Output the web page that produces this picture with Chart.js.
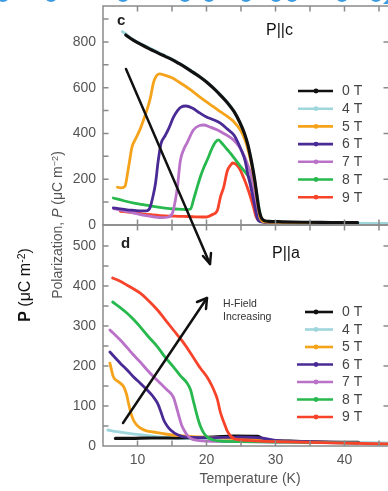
<!DOCTYPE html>
<html><head><meta charset="utf-8">
<script src="https://cdn.jsdelivr.net/npm/chart.js@4/dist/chart.umd.min.js"></script>
<style>
html,body{margin:0;padding:0;background:#fff;width:388px;height:491px;overflow:hidden;position:relative;font-family:"Liberation Sans",Arial,sans-serif;}
canvas{position:absolute;left:0;top:0;}
svg{position:absolute;left:0;top:0;}
.t{position:absolute;white-space:nowrap;line-height:1;}
.c{transform:translate(-50%,-50%);}
.r{transform:translate(-50%,-50%) rotate(-90deg);}
sup{font-size:0.65em;vertical-align:0.45em;line-height:0;}
</style></head><body>
<canvas id="cTop" width="392" height="491"></canvas>
<canvas id="cBot" width="392" height="491"></canvas>
<svg width="388" height="491" viewBox="0 0 388 491">
  <g fill="#3d9be0">
    <ellipse cx="3" cy="-4" rx="6" ry="6"/><ellipse cx="51" cy="-4" rx="6" ry="6"/>
    <ellipse cx="123" cy="-4" rx="6" ry="6"/><ellipse cx="185" cy="-4" rx="6" ry="6"/>
    <ellipse cx="209" cy="-4" rx="6" ry="6"/><ellipse cx="246" cy="-4" rx="6" ry="6"/>
    <ellipse cx="276" cy="-4" rx="6" ry="6"/><ellipse cx="292" cy="-4" rx="6" ry="6"/>
    <ellipse cx="342" cy="-4" rx="6" ry="6"/><ellipse cx="376" cy="-4" rx="6" ry="6"/>
    <polygon points="383,4 388,-1 388,4"/>
  </g>
  <g stroke="#111" stroke-width="2.5" fill="none" stroke-linecap="round" stroke-linejoin="round">
    <line x1="126" y1="69" x2="210" y2="264"/>
    <polyline points="203,256 210,264 211,253"/>
    <line x1="123" y1="423" x2="207" y2="298"/>
    <polyline points="197,302 207,298 206,309"/>
  </g>
</svg>
<div class="t" style="left:117px;top:12px;font-size:15px;font-weight:bold;color:#222">c</div>
<div class="t" style="left:121px;top:235px;font-size:15px;font-weight:bold;color:#222">d</div>
<div class="t" style="left:266px;top:22px;font-size:16px;color:#111">P||c</div>
<div class="t" style="left:272px;top:245px;font-size:16px;color:#111">P||a</div>
<div class="t" style="left:223px;top:297px;font-size:10.5px;line-height:13px;color:#333">H-Field<br>Increasing</div>
<div class="t c" style="left:250px;top:478px;font-size:14px;color:#555">Temperature (K)</div>
<div class="t r" style="left:57px;top:225px;font-size:14px;color:#555">Polarization, <i>P</i> (μC m<sup>−2</sup>)</div>
<div class="t r" style="left:25px;top:285px;font-size:16px;color:#111"><b>P</b> (μC m<sup>-2</sup>)</div>
<script>
// ---------- axis / label data ----------
const T_MIN = 5, T_MAX = 46.45;
const X_LABEL_TICKS = [10, 20, 30, 40];
const X_MINOR_TICKS = [10, 15, 20, 25, 30, 35, 40, 45];
const TOP_Y_LABELS = [0, 200, 400, 600, 800];
const TOP_Y_MINOR = [100, 200, 300, 400, 500, 600, 700, 800, 900];
const BOT_Y_LABELS = [0, 100, 200, 300, 400, 500];
const BOT_Y_MINOR = [50, 100, 150, 200, 250, 300, 350, 400, 450, 500];
const FIELDS = ['0 T', '4 T', '5 T', '6 T', '7 T', '8 T', '9 T'];
const COLORS = ['#111111', '#9fd6dc', '#f5a31a', '#4a2a95', '#b972c8', '#27b84e', '#f7432a'];

// ---------- Panel c : P || c ----------
const c0T_T = [8.3, 9, 10, 11, 12, 13, 14, 15, 16, 17, 18, 19, 20, 21, 22, 23, 24, 24.8, 25.5, 26, 26.5, 27, 27.3, 27.6, 27.9, 28.3, 29, 31, 34, 38, 41.9];
const c0T_P = [830, 815, 797, 781, 766, 751, 737, 723, 706, 688, 668, 648, 625, 598, 568, 535, 495, 450, 400, 350, 280, 195, 130, 70, 35, 20, 16, 14, 12, 11, 10];
const c4T_T = [7.8, 8.5, 9, 10, 12, 14, 16, 18, 20, 22, 24, 25.5, 26.5, 27, 27.4, 27.8, 28.3, 30, 35, 40, 46.5];
const c4T_P = [845, 830, 818, 800, 770, 740, 708, 670, 627, 570, 497, 400, 282, 195, 120, 40, 18, 13, 10, 8, 7];
const c5T_T = [7.1, 7.6, 8.2, 8.5, 8.8, 9.2, 9.7, 10.4, 11, 11.4, 11.9, 12.3, 12.7, 13.2, 13.8, 15, 16, 17.5, 19, 20, 21, 22, 23, 24, 25, 25.6, 26.1, 26.6, 27, 27.4, 27.8, 28.3, 30, 35, 40];
const c5T_P = [165, 162, 170, 215, 270, 340, 375, 420, 470, 505, 560, 620, 650, 660, 656, 643, 625, 595, 560, 538, 517, 495, 475, 450, 410, 370, 320, 255, 185, 100, 30, 15, 12, 10, 9];
const c6T_T = [6.5, 7.5, 8.5, 9.5, 10.5, 11.3, 11.8, 12.2, 12.6, 13, 13.4, 14, 14.5, 15.2, 15.8, 16.3, 17, 18, 19, 20, 21, 22, 23, 24, 25, 25.6, 26, 26.4, 26.8, 27.2, 27.5, 28.2, 32, 38];
const c6T_P = [75, 70, 66, 64, 62, 62, 75, 120, 180, 280, 355, 390, 420, 470, 500, 515, 520, 510, 490, 472, 460, 445, 420, 392, 330, 280, 220, 170, 110, 50, 20, 13, 11, 9];
const c7T_T = [6.5, 8, 9.5, 11, 12.5, 13.5, 14.5, 15.1, 15.5, 15.8, 16.2, 16.7, 17.2, 18.1, 19, 19.6, 20.5, 21.6, 22.5, 23.9, 24.8, 25.5, 26, 26.4, 26.8, 27.2, 27.6, 28.2, 32, 38];
const c7T_P = [72, 62, 52, 42, 35, 32, 35, 55, 110, 170, 280, 330, 360, 415, 435, 437, 428, 415, 400, 372, 340, 300, 260, 227, 170, 100, 35, 15, 11, 9];
const c8T_T = [6.5, 8, 9.5, 11, 12.5, 14, 15.5, 17, 17.7, 18.1, 18.6, 19.1, 19.6, 20.1, 20.9, 21.3, 21.7, 22.3, 23, 23.9, 24.7, 25.5, 26, 26.4, 26.8, 27.3, 27.7, 28.3, 32, 38];
const c8T_P = [118, 106, 96, 88, 80, 74, 70, 67, 70, 109, 160, 210, 250, 284, 341, 362, 372, 355, 330, 297, 265, 235, 215, 195, 150, 70, 25, 14, 11, 9];
const c9T_T = [7.5, 9, 10.4, 12, 14, 16, 18, 19.5, 20.1, 20.8, 21.6, 22, 22.5, 23, 23.5, 23.8, 24.3, 24.9, 25.4, 25.9, 26.4, 26.8, 27.2, 27.6, 28.3, 32, 38];
const c9T_P = [60, 55, 50, 45, 40, 38, 36, 35, 36, 45, 66, 120, 166, 235, 262, 271, 265, 240, 205, 166, 120, 79, 35, 20, 13, 10, 8];

// ---------- Panel d : P || a ----------
const d0T_T = [6.8, 9, 12, 15, 18, 21, 24, 27.4, 28.5, 32, 36, 42];
const d0T_P = [19, 19, 20, 20, 21, 22, 25, 24, 15, 12, 10, 9];
const d4T_T = [5.7, 7, 9, 11, 13, 15.2, 18, 22, 26, 30, 35, 40, 46.5];
const d4T_P = [40, 36, 31, 27, 23, 20, 18, 16, 14, 12, 10, 9, 8];
const d5T_T = [6, 6.5, 7.3, 8, 8.4, 8.7, 9, 9.4, 9.9, 10.4, 11.3, 12.3, 14, 16, 20, 25, 30, 35, 42];
const d5T_P = [207, 173, 160, 148, 130, 107, 85, 65, 52, 45, 38, 35, 30, 26, 22, 18, 13, 10, 8];
const d6T_T = [6, 7.5, 8.5, 9.4, 10.4, 11.4, 12.2, 12.9, 13.4, 13.8, 14.3, 14.8, 15.8, 17, 20, 25, 28, 30, 35, 42];
const d6T_P = [235, 207, 190, 173, 157, 140, 125, 107, 85, 65, 50, 40, 28, 22, 21, 22, 20, 14, 11, 8];
const d7T_T = [6, 7.5, 8.5, 9.4, 10.4, 11.4, 12.4, 13.3, 14.3, 15.2, 15.6, 16, 16.4, 16.8, 17.2, 17.8, 18.7, 20, 25, 30, 35, 42];
const d7T_P = [290, 265, 246, 228, 210, 190, 172, 157, 140, 122, 100, 75, 52, 38, 27, 18, 14, 12, 11, 10, 9, 7];
const d8T_T = [6.4, 7.5, 8.5, 9.5, 10.4, 11.5, 12.9, 14, 15.2, 16.2, 17.2, 17.7, 18.1, 18.5, 18.9, 19.3, 19.7, 20.3, 21, 22, 25, 30, 35, 42];
const d8T_P = [360, 346, 332, 315, 298, 275, 248, 222, 198, 176, 157, 140, 112, 85, 60, 42, 30, 20, 15, 12, 11, 10, 9, 7];
const d9T_T = [6.4, 7.5, 8.5, 9.5, 10.4, 11.5, 12.9, 14, 15.2, 16.5, 17.7, 19.1, 20.1, 20.8, 21.3, 21.6, 22, 22.5, 23, 23.5, 24, 25, 27, 30, 35, 40, 46.5];
const d9T_P = [420, 412, 402, 392, 382, 365, 340, 316, 290, 262, 232, 195, 172, 150, 130, 115, 85, 60, 38, 25, 18, 15, 13, 11, 9, 7, 5];

// ---------- helpers ----------
const FONT = '"Liberation Sans", Arial, sans-serif';
function pts(T, P) { return T.map((t, i) => ({ x: t, y: P[i] })); }
function mkSets(series, drawOrder) {
  return series.map((s, i) => ({
    label: FIELDS[i], data: pts(s[0], s[1]),
    borderColor: COLORS[i], backgroundColor: COLORS[i],
    borderWidth: i === 0 ? 3.2 : 2.8, order: drawOrder[i], fill: false
  }));
}

const framePlugin = {
  id: 'frame',
  afterDraw(chart, args, o) {
    const { ctx, chartArea: a, scales: { x, y } } = chart;
    const TL = 5.5;
    ctx.save();
    ctx.strokeStyle = '#8a8a8a'; ctx.lineWidth = 1.5;
    ctx.strokeRect(a.left, a.top, a.right - a.left, a.bottom - a.top);
    ctx.beginPath();
    X_MINOR_TICKS.forEach(v => {
      const px = x.getPixelForValue(v);
      ctx.moveTo(px, a.top); ctx.lineTo(px, a.top + TL);
      ctx.moveTo(px, a.bottom); ctx.lineTo(px, a.bottom - TL);
    });
    o.left.forEach(v => { const py = y.getPixelForValue(v); ctx.moveTo(a.left, py); ctx.lineTo(a.left + TL, py); });
    o.right.forEach(v => { const py = y.getPixelForValue(v); ctx.moveTo(a.right, py); ctx.lineTo(a.right - TL, py); });
    ctx.stroke();
    ctx.restore();
  }
};

const legendPlugin = {
  id: 'panelLegend',
  afterDraw(chart, args, o) {
    const { ctx } = chart;
    ctx.save();
    ctx.font = '14px ' + FONT;
    ctx.textBaseline = 'middle';
    ctx.textAlign = 'left';
    chart.data.datasets.forEach((ds, i) => {
      const yy = o.y0 + i * o.dy;
      const xs = o.starts[i];
      ctx.strokeStyle = ds.borderColor; ctx.lineWidth = 2.6;
      ctx.beginPath(); ctx.moveTo(xs, yy); ctx.lineTo(o.end, yy); ctx.stroke();
      ctx.fillStyle = ds.borderColor;
      ctx.beginPath(); ctx.arc((o.mid), yy, 2.4, 0, Math.PI * 2); ctx.fill();
      ctx.fillStyle = '#444';
      ctx.fillText(ds.label, o.textX, yy + 0.5);
    });
    ctx.restore();
  }
};

function makeChart(id, datasets, cfg) {
  return new Chart(document.getElementById(id), {
    type: 'line',
    data: { datasets },
    options: {
      responsive: false, animation: false, events: [],
      layout: { padding: cfg.padding },
      plugins: {
        legend: { display: false }, tooltip: { enabled: false },
        frame: { left: cfg.leftTicks, right: cfg.rightTicks },
        panelLegend: cfg.legend
      },
      elements: { point: { radius: 0 }, line: { cubicInterpolationMode: 'monotone', borderCapStyle: 'round', borderJoinStyle: 'round' } },
      scales: {
        x: {
          type: 'linear', min: T_MIN, max: T_MAX, display: cfg.showX,
          grid: { display: false, drawTicks: false }, border: { display: false },
          afterBuildTicks: s => { s.ticks = X_LABEL_TICKS.map(v => ({ value: v })); },
          ticks: { font: { family: FONT, size: 14 }, color: '#555', padding: 6, maxRotation: 0, autoSkip: false },
          afterFit: s => { s.height = cfg.showX ? 45 : 0; s.paddingLeft = 0; s.paddingRight = 0; }
        },
        y: {
          type: 'linear', min: 0, max: cfg.yMax,
          grid: { display: false, drawTicks: false }, border: { display: false },
          afterBuildTicks: s => { s.ticks = cfg.yLabels.map(v => ({ value: v })); },
          ticks: { font: { family: FONT, size: 14 }, color: '#555', padding: 7, autoSkip: false },
          afterFit: s => { s.width = 103; s.paddingTop = 0; s.paddingBottom = 0; }
        }
      }
    },
    plugins: [framePlugin, legendPlugin]
  });
}

const topSeries = [[c0T_T, c0T_P], [c4T_T, c4T_P], [c5T_T, c5T_P], [c6T_T, c6T_P], [c7T_T, c7T_P], [c8T_T, c8T_P], [c9T_T, c9T_P]];
const botSeries = [[d0T_T, d0T_P], [d4T_T, d4T_P], [d5T_T, d5T_P], [d6T_T, d6T_P], [d7T_T, d7T_P], [d8T_T, d8T_P], [d9T_T, d9T_P]];

makeChart('cTop', mkSets(topSeries, [0, 6, 1, 2, 3, 4, 5]), {
  padding: { top: 6, bottom: 266, left: 0, right: 3 },
  showX: false, yMax: 957, yLabels: TOP_Y_LABELS,
  leftTicks: TOP_Y_MINOR, rightTicks: [200, 400, 600, 800],
  legend: { y0: 91, dy: 17.7, starts: [298, 298, 298, 298, 298, 298, 298], end: 333, mid: 316, textX: 342 }
});
makeChart('cBot', mkSets(botSeries, [5, 6, 4, 3, 2, 1, 0]), {
  padding: { top: 225, bottom: 0, left: 0, right: 3 },
  showX: true, yMax: 552.5, yLabels: BOT_Y_LABELS,
  leftTicks: BOT_Y_MINOR, rightTicks: [100, 200, 300, 400, 500],
  legend: { y0: 312, dy: 17.5, starts: [305, 305, 305, 297, 297, 297, 297], end: 333, mid: 316, textX: 342 }
});
</script>
</body></html>
